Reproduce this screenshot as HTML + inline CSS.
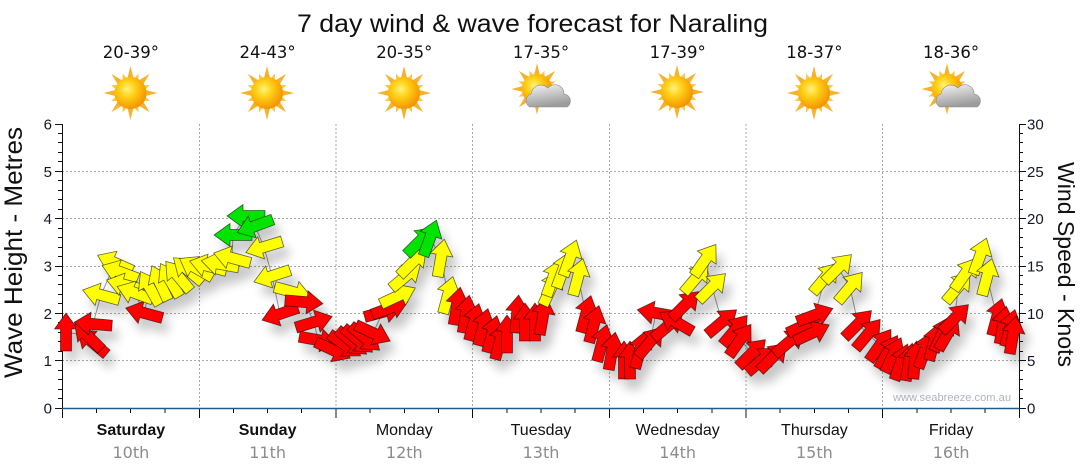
<!DOCTYPE html>
<html><head><meta charset="utf-8"><style>
html,body{margin:0;padding:0;background:#fff;}
svg{display:block;}
</style></head><body>
<svg width="1080" height="475" viewBox="0 0 1080 475" xmlns="http://www.w3.org/2000/svg">
<defs>
<polygon id="a" points="-19,-5.5 3,-5.5 3,-11.5 19,0 3,11.5 3,5.5 -19,5.5" stroke="#000" stroke-opacity="0.6" stroke-width="0.8" stroke-linejoin="miter"/>
<radialGradient id="sg" cx="40%" cy="38%" r="65%">
<stop offset="0" stop-color="#fff37a"/><stop offset="0.4" stop-color="#ffcf16"/><stop offset="1" stop-color="#f29000"/>
</radialGradient>
<linearGradient id="cg" x1="0" y1="0" x2="0.3" y2="1">
<stop offset="0" stop-color="#f6f6f6"/><stop offset="1" stop-color="#9c9c9c"/>
</linearGradient>
<g id="sun">
<g fill="#f6b22c">
<polygon points="0,-27 3.5,-13 -3.5,-13"/>
<polygon points="0,-27 3.5,-13 -3.5,-13" transform="rotate(45)"/>
<polygon points="0,-27 3.5,-13 -3.5,-13" transform="rotate(90)"/>
<polygon points="0,-27 3.5,-13 -3.5,-13" transform="rotate(135)"/>
<polygon points="0,-27 3.5,-13 -3.5,-13" transform="rotate(180)"/>
<polygon points="0,-27 3.5,-13 -3.5,-13" transform="rotate(225)"/>
<polygon points="0,-27 3.5,-13 -3.5,-13" transform="rotate(270)"/>
<polygon points="0,-27 3.5,-13 -3.5,-13" transform="rotate(315)"/>
</g>
<g fill="#f9c640">
<polygon points="0,-21 3,-13 -3,-13" transform="rotate(22.5)"/>
<polygon points="0,-21 3,-13 -3,-13" transform="rotate(67.5)"/>
<polygon points="0,-21 3,-13 -3,-13" transform="rotate(112.5)"/>
<polygon points="0,-21 3,-13 -3,-13" transform="rotate(157.5)"/>
<polygon points="0,-21 3,-13 -3,-13" transform="rotate(202.5)"/>
<polygon points="0,-21 3,-13 -3,-13" transform="rotate(247.5)"/>
<polygon points="0,-21 3,-13 -3,-13" transform="rotate(292.5)"/>
<polygon points="0,-21 3,-13 -3,-13" transform="rotate(337.5)"/>
</g>
<circle r="16" fill="url(#sg)"/>
</g>
<path id="cloud" d="M-19,10 A7,7 0 0 1 -18,-3 A10,10 0 0 1 -1,-9 A9,9 0 0 1 15,-3 A7,7 0 0 1 18,10 Z" fill="url(#cg)" stroke="#8a8a8a" stroke-width="0.6"/>
<filter id="sh" filterUnits="userSpaceOnUse" x="0" y="150" width="1080" height="300">
<feGaussianBlur in="SourceAlpha" stdDeviation="5"/>
<feOffset dx="6" dy="10"/>
<feComponentTransfer><feFuncA type="linear" slope="0.22"/></feComponentTransfer>
<feMerge><feMergeNode/><feMergeNode in="SourceGraphic"/></feMerge>
</filter>
</defs>

<!-- Title -->
<text x="297" y="32" font-family="Liberation Sans, sans-serif" font-size="25" fill="#111" textLength="471" lengthAdjust="spacingAndGlyphs">7 day wind &amp; wave forecast for Naraling</text>

<!-- Temps -->
<g font-family="DejaVu Sans, sans-serif" font-size="16.5" fill="#111" text-anchor="middle">
<text x="130.9" y="58">20-39°</text>
<text x="267.6" y="58">24-43°</text>
<text x="404.3" y="58">20-35°</text>
<text x="541" y="58">17-35°</text>
<text x="677.7" y="58">17-39°</text>
<text x="814.4" y="58">18-37°</text>
<text x="951.1" y="58">18-36°</text>
</g>

<!-- Icons -->
<use href="#sun" transform="translate(130.5,93)"/>
<use href="#sun" transform="translate(267,93)"/>
<use href="#sun" transform="translate(404,93)"/>
<use href="#sun" transform="translate(537,89) scale(0.95)"/>
<use href="#cloud" transform="translate(549,97)"/>
<use href="#sun" transform="translate(677,92)"/>
<use href="#sun" transform="translate(814,93)"/>
<use href="#sun" transform="translate(947,89) scale(0.95)"/>
<use href="#cloud" transform="translate(959,97)"/>

<!-- Gridlines -->
<g stroke="#a8a8a8" stroke-width="1" stroke-dasharray="2,2" fill="none">
<path d="M62 360.5H1019M62 313.5H1019M62 266.5H1019M62 218.5H1019M62 171.5H1019"/>
<path d="M199.5 124V408M336 124V408M472.5 124V408M609.5 124V408M746 124V408M882.5 124V408"/>
</g>

<!-- Axes -->
<g stroke="#111" stroke-width="1" fill="none">
<path d="M62.5 124V418M1019.5 124V408"/>
<path d="M55 408.5h7M58 398.5h4M58 389.5h4M58 379.5h4M58 370.5h4M55 360.5h7M58 351.5h4M58 341.5h4M58 332.5h4M58 322.5h4M55 313.5h7M58 303.5h4M58 294.5h4M58 284.5h4M58 275.5h4M55 266.5h7M58 256.5h4M58 247.5h4M58 237.5h4M58 228.5h4M55 218.5h7M58 209.5h4M58 199.5h4M58 190.5h4M58 180.5h4M55 171.5h7M58 161.5h4M58 152.5h4M58 142.5h4M58 133.5h4M55 124.5h7"/>
<path d="M1019 408.5h7M1019 398.5h4M1019 389.5h4M1019 379.5h4M1019 370.5h4M1019 360.5h7M1019 351.5h4M1019 341.5h4M1019 332.5h4M1019 322.5h4M1019 313.5h7M1019 303.5h4M1019 294.5h4M1019 284.5h4M1019 275.5h4M1019 266.5h7M1019 256.5h4M1019 247.5h4M1019 237.5h4M1019 228.5h4M1019 218.5h7M1019 209.5h4M1019 199.5h4M1019 190.5h4M1019 180.5h4M1019 171.5h7M1019 161.5h4M1019 152.5h4M1019 142.5h4M1019 133.5h4M1019 124.5h7"/>
<path d="M199.5 408V418M336 408V418M472.5 408V418M609.5 408V418M746 408V418M882.5 408V418M1019.5 408V418"/>
<path d="M96.5 408v5M130.5 408v5M165 408v5M233.5 408v5M267.5 408v5M301.5 408v5M370 408v5M404.5 408v5M438.5 408v5M507 408v5M541 408v5M575 408v5M643.5 408v5M677.5 408v5M712 408v5M780 408v5M814.5 408v5M848.5 408v5M917 408v5M951 408v5M985 408v5"/>
</g>
<path d="M62 408.5H1019.5" stroke="#1f5a8a" stroke-width="1.5"/>

<!-- Axis labels -->
<g font-family="Liberation Sans, sans-serif" font-size="15" fill="#14182a">
<g text-anchor="end">
<text x="52" y="413.5">0</text>
<text x="52" y="366">1</text>
<text x="52" y="318.8">2</text>
<text x="52" y="271.5">3</text>
<text x="52" y="224">4</text>
<text x="52" y="176.8">5</text>
<text x="52" y="129.5">6</text>
</g>
<text x="1027" y="413.5">0</text>
<text x="1027" y="366">5</text>
<text x="1027" y="318.8">10</text>
<text x="1027" y="271.5">15</text>
<text x="1027" y="224">20</text>
<text x="1027" y="176.8">25</text>
<text x="1027" y="129.5">30</text>
</g>

<text transform="translate(22,252.5) rotate(-90)" text-anchor="middle" font-family="Liberation Sans, sans-serif" font-size="25" fill="#111" textLength="251" lengthAdjust="spacingAndGlyphs">Wave Height - Metres</text>
<text transform="translate(1058,264.5) rotate(90)" text-anchor="middle" font-family="Liberation Sans, sans-serif" font-size="23.5" fill="#111" textLength="205" lengthAdjust="spacingAndGlyphs">Wind Speed - Knots</text>

<!-- Day labels -->
<g font-family="Liberation Sans, sans-serif" font-size="16" fill="#111" text-anchor="middle">
<text x="130.9" y="435" font-weight="bold">Saturday</text>
<text x="267.6" y="435" font-weight="bold">Sunday</text>
<text x="404.3" y="435">Monday</text>
<text x="541" y="435">Tuesday</text>
<text x="677.7" y="435">Wednesday</text>
<text x="814.4" y="435">Thursday</text>
<text x="951.1" y="435">Friday</text>
</g>
<g font-family="DejaVu Sans, sans-serif" font-size="16" fill="#8c8c8c" text-anchor="middle">
<text x="130.9" y="458">10th</text>
<text x="267.6" y="458">11th</text>
<text x="404.3" y="458">12th</text>
<text x="541" y="458">13th</text>
<text x="677.7" y="458">14th</text>
<text x="814.4" y="458">15th</text>
<text x="951.1" y="458">16th</text>
</g>

<text x="893" y="401" font-family="Liberation Sans, sans-serif" font-size="11" fill="#b0b4c0" textLength="118" lengthAdjust="spacingAndGlyphs">www.seabreeze.com.au</text>

<!-- Wind series connecting line -->
<polyline fill="none" stroke="#999" stroke-width="1" points="66,332 88,336 92,342 93,324 101,295 115,263 120,272 125,285 135,293 144,313 150,288 160,283 170,280 178,276 188,270 196,268 208,266 220,264 232,258 233,235 246,216 255,226 264,247 272,276 280,314 293,292 304,302 314,322 318,340 333,350 345,345 352,342 358,340 365,338 373,333 383,312 390,308 398,296 406,276 413,262 420,241 430,238 441,258 448,295 457,306 466,314 474,322 483,327 492,334 500,341 507,334 517,314 525,322 535,322 543,316 551,288 553,278 563,270 570,258 578,277 586,314 594,324 602,343 612,351 624,360 630,360 640,350 650,342 656,313 668,326 676,322 685,305 696,278 705,260 712,287 722,322 735,330 740,340 752,353 762,360 773,357 789,342 805,325 812,333 815,315 825,278 838,268 850,287 858,324 868,334 880,345 888,352 893,355 901,362 909,362 915,360 925,350 934,342 942,334 948,333 955,318 958,287 965,274 980,256 987,277 997,317 1003,325 1010,328 1013,335"/>

<!-- Arrows -->
<g filter="url(#sh)">
<!-- Saturday -->
<use href="#a" fill="#ff0000" transform="translate(66,332) rotate(-90)"/>
<use href="#a" fill="#ff0000" transform="translate(92,342) rotate(-140)"/>
<use href="#a" fill="#ff0000" transform="translate(88,336) rotate(-135)"/>
<use href="#a" fill="#ff0000" transform="translate(93,324) rotate(-175)"/>
<use href="#a" fill="#ffff00" transform="translate(115,263) rotate(-156)"/>
<use href="#a" fill="#ffff00" transform="translate(120,272) rotate(-160)"/>
<use href="#a" fill="#ffff00" transform="translate(101,295) rotate(-165)"/>
<use href="#a" fill="#ff0000" transform="translate(144,313) rotate(-165)"/>
<use href="#a" fill="#ffff00" transform="translate(125,285) rotate(-165)"/>
<use href="#a" fill="#ffff00" transform="translate(135,293) rotate(-160)"/>
<use href="#a" fill="#ffff00" transform="translate(150,288) rotate(-120)"/>
<use href="#a" fill="#ffff00" transform="translate(160,283) rotate(-115)"/>
<use href="#a" fill="#ffff00" transform="translate(170,280) rotate(-120)"/>
<use href="#a" fill="#ffff00" transform="translate(178,276) rotate(-130)"/>
<use href="#a" fill="#ffff00" transform="translate(188,270) rotate(-140)"/>
<use href="#a" fill="#ffff00" transform="translate(196,268) rotate(-150)"/>
<!-- Sunday -->
<use href="#a" fill="#ffff00" transform="translate(208,266) rotate(-165)"/>
<use href="#a" fill="#ffff00" transform="translate(220,264) rotate(-170)"/>
<use href="#a" fill="#ffff00" transform="translate(232,258) rotate(-165)"/>
<use href="#a" fill="#00e400" transform="translate(233,235) rotate(180)"/>
<use href="#a" fill="#00e400" transform="translate(246,216) rotate(180)"/>
<use href="#a" fill="#00e400" transform="translate(255,226) rotate(160)"/>
<use href="#a" fill="#ffff00" transform="translate(264,247) rotate(163)"/>
<use href="#a" fill="#ffff00" transform="translate(272,276) rotate(162)"/>
<use href="#a" fill="#ff0000" transform="translate(280,314) rotate(161)"/>
<use href="#a" fill="#ffff00" transform="translate(293,292) rotate(15)"/>
<use href="#a" fill="#ff0000" transform="translate(304,302) rotate(5)"/>
<use href="#a" fill="#ff0000" transform="translate(314,322) rotate(-17)"/>
<use href="#a" fill="#ff0000" transform="translate(318,340) rotate(10)"/>
<use href="#a" fill="#ff0000" transform="translate(333,350) rotate(25)"/>
<!-- Monday -->
<use href="#a" fill="#ff0000" transform="translate(345,345) rotate(35)"/>
<use href="#a" fill="#ff0000" transform="translate(352,342) rotate(40)"/>
<use href="#a" fill="#ff0000" transform="translate(358,340) rotate(40)"/>
<use href="#a" fill="#ff0000" transform="translate(365,338) rotate(40)"/>
<use href="#a" fill="#ff0000" transform="translate(373,333) rotate(25)"/>
<use href="#a" fill="#ff0000" transform="translate(383,312) rotate(-15)"/>
<use href="#a" fill="#ff0000" transform="translate(390,308) rotate(-20)"/>
<use href="#a" fill="#ffff00" transform="translate(398,296) rotate(-25)"/>
<use href="#a" fill="#ffff00" transform="translate(406,276) rotate(-40)"/>
<use href="#a" fill="#ffff00" transform="translate(413,262) rotate(-45)"/>
<use href="#a" fill="#00e400" transform="translate(420,241) rotate(-45)"/>
<use href="#a" fill="#00e400" transform="translate(430,238) rotate(-70)"/>
<use href="#a" fill="#ffff00" transform="translate(441,258) rotate(-80)"/>
<use href="#a" fill="#ffff00" transform="translate(448,295) rotate(-75)"/>
<use href="#a" fill="#ff0000" transform="translate(457,306) rotate(-80)"/>
<use href="#a" fill="#ff0000" transform="translate(466,314) rotate(-80)"/>
<!-- Tuesday -->
<use href="#a" fill="#ff0000" transform="translate(474,322) rotate(-75)"/>
<use href="#a" fill="#ff0000" transform="translate(483,327) rotate(-75)"/>
<use href="#a" fill="#ff0000" transform="translate(492,334) rotate(-75)"/>
<use href="#a" fill="#ff0000" transform="translate(500,341) rotate(-75)"/>
<use href="#a" fill="#ff0000" transform="translate(507,334) rotate(-90)"/>
<use href="#a" fill="#ff0000" transform="translate(517,314) rotate(-85)"/>
<use href="#a" fill="#ff0000" transform="translate(525,322) rotate(-90)"/>
<use href="#a" fill="#ff0000" transform="translate(535,322) rotate(-90)"/>
<use href="#a" fill="#ff0000" transform="translate(543,316) rotate(-80)"/>
<use href="#a" fill="#ffff00" transform="translate(551,288) rotate(-65)"/>
<use href="#a" fill="#ffff00" transform="translate(553,278) rotate(-70)"/>
<use href="#a" fill="#ffff00" transform="translate(563,270) rotate(-70)"/>
<use href="#a" fill="#ffff00" transform="translate(570,258) rotate(-70)"/>
<use href="#a" fill="#ffff00" transform="translate(578,277) rotate(-75)"/>
<use href="#a" fill="#ff0000" transform="translate(586,314) rotate(-75)"/>
<use href="#a" fill="#ff0000" transform="translate(594,324) rotate(-75)"/>
<use href="#a" fill="#ff0000" transform="translate(602,343) rotate(-75)"/>
<!-- Wednesday -->
<use href="#a" fill="#ff0000" transform="translate(612,351) rotate(-80)"/>
<use href="#a" fill="#ff0000" transform="translate(624,360) rotate(-90)"/>
<use href="#a" fill="#ff0000" transform="translate(630,360) rotate(-90)"/>
<use href="#a" fill="#ff0000" transform="translate(640,350) rotate(-75)"/>
<use href="#a" fill="#ff0000" transform="translate(650,342) rotate(-50)"/>
<use href="#a" fill="#ff0000" transform="translate(656,313) rotate(-170)"/>
<use href="#a" fill="#ff0000" transform="translate(668,326) rotate(-40)"/>
<use href="#a" fill="#ff0000" transform="translate(676,322) rotate(-150)"/>
<use href="#a" fill="#ff0000" transform="translate(685,305) rotate(-45)"/>
<use href="#a" fill="#ffff00" transform="translate(696,278) rotate(-50)"/>
<use href="#a" fill="#ffff00" transform="translate(705,260) rotate(-55)"/>
<use href="#a" fill="#ffff00" transform="translate(712,287) rotate(-45)"/>
<use href="#a" fill="#ff0000" transform="translate(722,322) rotate(-40)"/>
<use href="#a" fill="#ff0000" transform="translate(735,330) rotate(-50)"/>
<use href="#a" fill="#ff0000" transform="translate(740,340) rotate(-55)"/>
<!-- Thursday -->
<use href="#a" fill="#ff0000" transform="translate(752,353) rotate(-45)"/>
<use href="#a" fill="#ff0000" transform="translate(762,360) rotate(-40)"/>
<use href="#a" fill="#ff0000" transform="translate(773,357) rotate(-45)"/>
<use href="#a" fill="#ff0000" transform="translate(789,342) rotate(-40)"/>
<use href="#a" fill="#ff0000" transform="translate(805,325) rotate(-25)"/>
<use href="#a" fill="#ff0000" transform="translate(812,333) rotate(-25)"/>
<use href="#a" fill="#ff0000" transform="translate(815,315) rotate(-20)"/>
<use href="#a" fill="#ffff00" transform="translate(825,278) rotate(-50)"/>
<use href="#a" fill="#ffff00" transform="translate(838,268) rotate(-45)"/>
<use href="#a" fill="#ffff00" transform="translate(850,287) rotate(-50)"/>
<use href="#a" fill="#ff0000" transform="translate(858,324) rotate(-45)"/>
<use href="#a" fill="#ff0000" transform="translate(868,334) rotate(-50)"/>
<use href="#a" fill="#ff0000" transform="translate(880,345) rotate(-55)"/>
<!-- Friday -->
<use href="#a" fill="#ff0000" transform="translate(888,352) rotate(-60)"/>
<use href="#a" fill="#ff0000" transform="translate(893,355) rotate(-65)"/>
<use href="#a" fill="#ff0000" transform="translate(901,362) rotate(-70)"/>
<use href="#a" fill="#ff0000" transform="translate(909,362) rotate(-80)"/>
<use href="#a" fill="#ff0000" transform="translate(915,360) rotate(-85)"/>
<use href="#a" fill="#ff0000" transform="translate(925,350) rotate(-70)"/>
<use href="#a" fill="#ff0000" transform="translate(934,342) rotate(-75)"/>
<use href="#a" fill="#ff0000" transform="translate(942,334) rotate(-65)"/>
<use href="#a" fill="#ff0000" transform="translate(948,333) rotate(-60)"/>
<use href="#a" fill="#ff0000" transform="translate(955,318) rotate(-45)"/>
<use href="#a" fill="#ffff00" transform="translate(958,287) rotate(-50)"/>
<use href="#a" fill="#ffff00" transform="translate(965,274) rotate(-55)"/>
<use href="#a" fill="#ffff00" transform="translate(980,256) rotate(-70)"/>
<use href="#a" fill="#ffff00" transform="translate(987,277) rotate(-75)"/>
<use href="#a" fill="#ff0000" transform="translate(997,317) rotate(-75)"/>
<use href="#a" fill="#ff0000" transform="translate(1003,325) rotate(-80)"/>
<use href="#a" fill="#ff0000" transform="translate(1010,328) rotate(-75)"/>
<use href="#a" fill="#ff0000" transform="translate(1013,335) rotate(-80)"/>
</g>
</svg>
</body></html>
